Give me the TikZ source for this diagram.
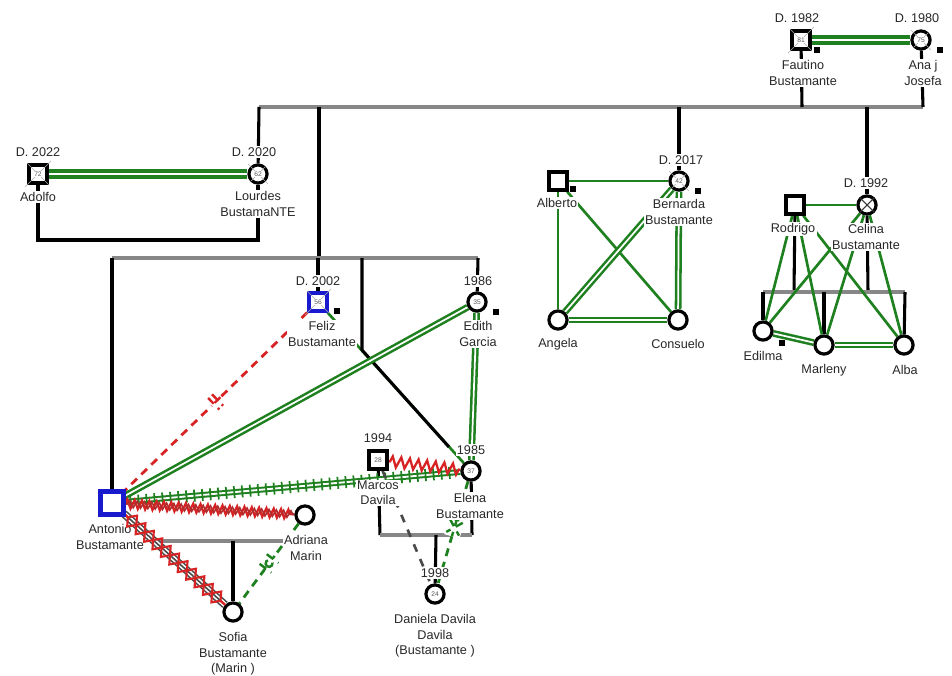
\documentclass[tikz,border=0pt]{standalone}
\usepackage{fontspec}
\setmainfont{Liberation Sans}
\usetikzlibrary{decorations.pathmorphing,decorations.markings}
\pgfdeclarelayer{bg}
\pgfsetlayers{bg,main}
\definecolor{gr}{RGB}{30,128,30}
\definecolor{rd}{RGB}{215,35,35}
\definecolor{drd}{RGB}{175,45,45}
\definecolor{txt}{RGB}{40,40,40}
\definecolor{blu}{RGB}{25,25,205}
\definecolor{gry}{RGB}{135,135,135}
\definecolor{dgry}{RGB}{75,75,75}
\tikzset{
  pers/.style={draw=black, line width=2.4pt, minimum size=13.6pt, inner sep=0pt, fill=white},
  male/.style={pers, rectangle},
  female/.style={pers, circle},
  bluemale/.style={rectangle, draw=blu, line width=2.4pt, inner sep=0pt, fill=white},
  age/.style={font=\fontsize{5}{5}\selectfont, text=gray!70!black, inner sep=0.3pt, fill=white},
  xl/.style={gray!65, line width=0.4pt, shorten <=-2.5pt, shorten >=-2.5pt},
  lab/.style={font=\fontsize{9.5}{11.5}\selectfont, text=txt, align=center, inner sep=1pt, fill=white},
  yr/.style={font=\fontsize{9.5}{11.5}\selectfont, text=txt, inner sep=1pt, fill=white},
  mk/.style={fill=black, minimum size=3.8pt, inner sep=0pt},
  kin/.style={draw=black, line width=2.3pt},
  sib/.style={draw=gry, line width=2.3pt},
  gdbl/.style={draw=gr, line width=2.8pt, double=white, double distance=1.4pt},
  gdbl2/.style={draw=gr, line width=1.9pt, double=white, double distance=1.3pt},
  gsingle/.style={draw=gr, line width=2pt},
  gtick/.style={draw=gr, line width=1.5pt, double=white, double distance=1.4pt,
    postaction={decorate, decoration={markings,
      mark=between positions 0.02 and 0.98 step 6pt with {\draw[gr, line width=1.3pt] (0,-4.5pt) -- (0,4.5pt);}}}},
  rzig/.style={draw=rd, line width=1.7pt, decorate, decoration={zigzag, segment length=5.5pt, amplitude=3.3pt, pre length=1pt, post length=1pt}},
  rzigd/.style={draw=drd, line width=1.2pt, decorate, decoration={zigzag, segment length=5.5pt, amplitude=2.5pt, pre length=3pt, post length=1pt}},
  rzigb/.style={draw=rd, line width=1.7pt, decorate, decoration={zigzag, segment length=6.5pt, amplitude=4pt, pre length=1pt, post length=1pt}},
  rdiam/.style={draw=rd, line width=1.6pt, decorate, decoration={zigzag, segment length=17pt, amplitude=5.5pt, pre length=4pt, post length=4pt}},
  rdiamm/.style={draw=rd, line width=1.6pt, decorate, decoration={zigzag, mirror, segment length=17pt, amplitude=5.5pt, pre length=4pt, post length=4pt}},
  cutoff/.style={draw=rd, line width=2.1pt, dash pattern=on 6pt off 4.5pt,
    postaction={decorate, decoration={markings,
      mark=at position 0.5 with {\fill[white] (-4pt,-5pt) rectangle (4pt,5pt);
        \draw[rd, line width=1.8pt] (-2pt,-6pt) -- (-2pt,6pt) (2pt,-6pt) -- (2pt,6pt) (-5pt,0) -- (5pt,0);}}}},
  gdashring/.style={draw=gr, line width=2.1pt, dash pattern=on 6pt off 4.5pt,
    postaction={decorate, decoration={markings,
      mark=at position 0.5 with {\fill[white] (-6pt,-5pt) rectangle (6pt,5pt);
        \draw[gr, line width=1.8pt] (-7pt,0) -- (-4.5pt,0) (4.5pt,0) -- (7pt,0) (-4.5pt,-5.5pt) -- (-4.5pt,5.5pt) (4.5pt,-5.5pt) -- (4.5pt,5.5pt) (0,0) circle (2.6pt);}}}},
  gdashx/.style={draw=gr, line width=2.1pt, dash pattern=on 6pt off 4.5pt,
    postaction={decorate, decoration={markings,
      mark=at position 0.45 with {\fill[white] (-7pt,-6pt) rectangle (7pt,6pt);
        \draw[gr, line width=1.8pt] (-7pt,0) -- (7pt,0) (-5pt,-5pt) -- (5pt,5pt) (-5pt,5pt) -- (5pt,-5pt) (-6pt,-4pt) -- (-6pt,4pt);}}}},
  gydash/.style={draw=dgry, line width=2pt, dash pattern=on 6pt off 6pt},
}
\begin{document}
\begin{tikzpicture}[x=0.75pt,y=-0.75pt]
\useasboundingbox (0,0) rectangle (952,675);
\begin{pgfonlayer}{bg}
\fill[white] (0,0) rectangle (952,675);
\end{pgfonlayer}

% ---------- persons ----------
\node[male] (fautino) at (801,40) {};
\node[female] (ana) at (921,40) {};
\node[male] (adolfo) at (38,174) {};
\node[female] (lourdes) at (258,174) {};
\node[male] (alberto) at (558,181) {};
\node[female] (bernarda) at (679,181) {};
\node[female] (angela) at (558,320) {};
\node[female] (consuelo) at (678,320) {};
\node[male] (rodrigo) at (795,205) {};
\node[female] (celina) at (867,205) {};
\node[female] (edilma) at (763,331) {};
\node[female] (marleny) at (824,345) {};
\node[female] (alba) at (904,345) {};
\node[bluemale, minimum size=13.6pt] (feliz) at (318,302) {};
\node[female] (edith) at (477,302) {};
\node[bluemale, minimum size=15.5pt] (antonio) at (112,503) {};
\node[female] (adriana) at (305,515) {};
\node[female] (sofia) at (233,612) {};
\node[male] (marcos) at (378,460) {};
\node[female] (elena) at (471,471) {};
\node[female] (daniela) at (435,594) {};

% deceased crosses
\foreach \p in {fautino,adolfo,feliz}{
  \draw[xl] (\p.north west) -- (\p.south east) (\p.north east) -- (\p.south west);}
\foreach \p in {ana,lourdes,bernarda}{
  \draw[xl] (\p.45) -- (\p.225) (\p.135) -- (\p.315);}
\draw[line width=0.8pt, gray!40!black] (celina.45) -- (celina.225) (celina.135) -- (celina.315);

% ages
\node[age] at (fautino) {81};
\node[age] at (ana) {75};
\node[age] at (adolfo) {72};
\node[age] at (lourdes) {62};
\node[age] at (bernarda) {42};
\node[age] at (feliz) {56};
\node[age] at (edith) {35};
\node[age] at (marcos) {28};
\node[age] at (elena) {37};
\node[age] at (daniela) {24};

% small markers
\node[mk] (m1) at (817,50) {};
\node[mk] (m2) at (940,50) {};
\node[mk] (m3) at (573,189) {};
\node[mk] (m4) at (698,191) {};
\node[mk] (m5) at (337,311) {};
\node[mk] (m6) at (496,312) {};
\node[mk] (m7) at (782,343) {};

% ---------- labels ----------
\node[yr] (y1) at (797,18) {D. 1982};
\node[yr] (y2) at (917,18) {D. 1980};
\node[yr] (y3) at (38,152) {D. 2022};
\node[yr] (y4) at (254,152) {D. 2020};
\node[yr] (y5) at (681,160) {D. 2017};
\node[yr] (y6) at (866,183) {D. 1992};
\node[yr] (y7) at (318,281) {D. 2002};
\node[yr] (y8) at (478,281) {1986};
\node[yr] (y9) at (378,438) {1994};
\node[yr] (y10) at (471,450) {1985};
\node[yr] (y11) at (435,573) {1998};

\node[lab] (n1) at (803,73) {Fautino\\Bustamante};
\node[lab] (n2) at (923,73) {Ana j\\Josefa};
\node[lab] (n3) at (38,197) {Adolfo};
\node[lab] (n4) at (258,204) {Lourdes\\BustamaNTE};
\node[lab] (n5) at (557,203) {Alberto};
\node[lab] (n6) at (679,212) {Bernarda\\Bustamante};
\node[lab] (n7) at (558,344) {Angela};
\node[lab] (n8) at (678,344) {Consuelo};
\node[lab] (n9) at (793,229) {Rodrigo};
\node[lab] (n10) at (866,237) {Celina\\Bustamante};
\node[lab] (n11) at (763,356) {Edilma};
\node[lab] (n12) at (824,370) {Marleny};
\node[lab] (n13) at (905,370) {Alba};
\node[lab] (n14) at (322,334) {Feliz\\Bustamante};
\node[lab] (n15) at (478,334) {Edith\\Garcia};
\node[lab] (n16) at (110,537) {Antonio\\Bustamante};
\node[lab] (n17) at (306,548) {Adriana\\Marin};
\node[lab] (n18) at (233,654) {Sofia\\Bustamante\\(Marin )};
\node[lab] (n19) at (378,493) {Marcos\\Davila};
\node[lab] (n20) at (470,506) {Elena\\Bustamante};
\node[lab] (n21) at (435,636) {Daniela Davila\\Davila\\(Bustamante )};

% ---------- connectors (behind) ----------
\begin{pgfonlayer}{bg}
% family structure
\coordinate (t1) at (259,107);
\coordinate (t2) at (923,107);
\draw[sib] (t1) -- (t2);
\draw[kin] (fautino) -- (802,107);
\draw[kin] (ana) -- (t2);
\draw[kin] (t1) -- (lourdes);
\draw[kin] (319,107) -- (319,258);
\draw[kin] (679,107) -- (bernarda);
\draw[kin] (867,107) -- (celina);

\coordinate (s1) at (112,258);
\coordinate (s2) at (478,258);
\draw[sib] (s1) -- (s2);
\draw[kin] (s1) -- (antonio);
\draw[kin] (318,258) -- (feliz);
\draw[kin] (s2) -- (edith);

\draw[kin] (adolfo) -- (38,240) -- (258,240) -- (lourdes);

\draw[kin] (rodrigo) -- (794,292);
\draw[kin] (celina) -- (868,292);
\draw[sib] (763,292) -- (905,292);
\draw[kin] (763,292) -- (edilma);
\draw[kin] (824,292) -- (marleny);
\draw[kin] (905,292) -- (alba);

\draw[sib] (150,541) -- (292,541);
\draw[kin] (233,541) -- (sofia);

\draw[kin] (marcos) -- (380,535);
\draw[kin] (elena) -- (472,535);
\draw[sib] (380,535) -- (472,535);
\draw[kin] (436,535) -- (daniela);

% relationships
\draw[gdbl] (fautino) -- (ana);
\draw[gdbl] (adolfo) -- (lourdes);
\draw[gsingle] (alberto) -- (bernarda);
\draw[gsingle] (alberto) -- (angela);
\draw[gsingle] (alberto) -- (consuelo);
\draw[gdbl2] (bernarda) -- (angela);
\draw[gdbl2] (bernarda) -- (consuelo);
\draw[gdbl2] (angela) -- (consuelo);

\draw[gsingle] (rodrigo) -- (celina);
\foreach \c in {edilma,marleny,alba}{
  \draw[gsingle] (rodrigo) -- (\c);
  \draw[gsingle] (celina) -- (\c);}
\draw[gdbl2] (edilma) -- (marleny);
\draw[gdbl2] (marleny) -- (alba);

\draw[cutoff] (feliz) -- (antonio);
\draw[gsingle] (feliz) -- (elena);
\draw[kin] (362,258) -- (362,350) -- (449,447);
\draw[gdbl2] (edith) -- (antonio);
\draw[gdbl2] (edith) -- (elena);
\draw[gtick] (antonio) -- (elena);
\draw[rzigb] (marcos) -- (elena);
\draw[rzig] (antonio) -- (adriana);
\draw[rzigd] (antonio) -- (adriana);
\draw[gdashring] (adriana) -- (sofia);
\draw[gdashx] (elena) -- (daniela);
\draw[gydash] (marcos) -- (daniela);
\end{pgfonlayer}

% Antonio - Sofia (drawn over the label)
\draw[draw=dgry, line width=6pt] (antonio) -- (sofia);
\draw[draw=white, line width=3.6pt] (antonio) -- (sofia);
\draw[draw=dgry, line width=1.2pt] (antonio) -- (sofia);
\draw[rdiam] (antonio) -- (sofia);
\draw[rdiamm] (antonio) -- (sofia);
% reinforce Antonio's blue border
\draw[draw=blu, line width=2.6pt] (antonio.north west) rectangle (antonio.south east);
\end{tikzpicture}
\end{document}
